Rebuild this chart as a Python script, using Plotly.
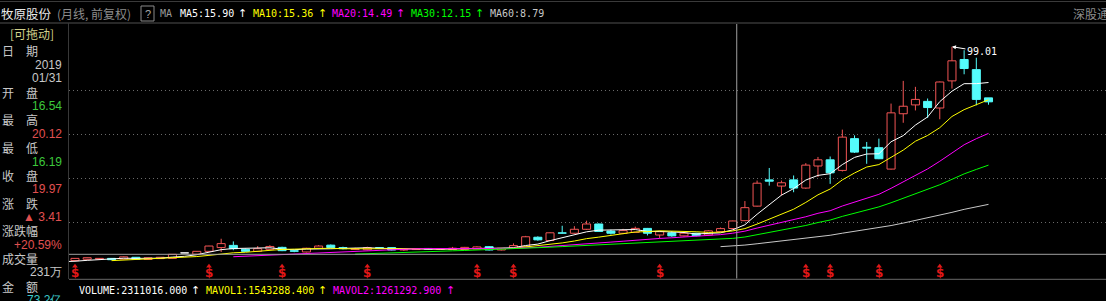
import numpy as np
import pandas as pd
import plotly.graph_objects as go

W, H = 1106, 301

# ---------------- data (monthly, 前复权) ----------------
months = pd.period_range("2014-01", "2020-10", freq="M").strftime("%Y/%m").tolist()
first_visible = "2014/07"

opens = [1.4, 1.3, 1.25, 1.3, 1.35, 1.4,
         2.0, 2.6, 2.7, 3.0, 2.7, 3.5, 2.5, 2.9, 3.0, 5.44,
         4.9, 6.2, 7.9, 8.9, 7.1, 6.2, 7.1, 8.0, 6.5, 5.9,
         7.6, 9.0, 7.9, 7.0, 6.9, 7.9, 7.9, 6.8, 7.0, 7.5,
         7.1, 7.0, 7.1, 7.3, 8.3, 6.8, 7.6, 8.3, 12.6, 11.1,
         14.6, 14.4, 16.2, 18.6, 15.4, 14.4, 14.8, 16.6, 13.6, 14.6,
         13.2, 14.4, 13.6, 15.1, 16.54, 20.1, 26.7, 38.6, 35.8, 38.6,
         34.9, 44.9, 47.7, 42.9, 57.3, 53.4, 53.2, 43.5, 68.6, 72.6,
         74.2, 71.2, 83.5, 93.2, 88.6, 75.8]
highs = [1.5, 1.35, 1.35, 1.4, 1.45, 1.55,
         3.1, 3.4, 3.1, 3.1, 3.9, 3.6, 3.4, 3.6, 4.9, 5.44,
         6.3, 8.7, 11.9, 10.7, 7.4, 8.6, 9.0, 8.3, 7.0, 7.8,
         9.0, 9.3, 8.3, 7.8, 8.3, 8.1, 8.0, 7.2, 7.5, 7.7,
         7.6, 8.2, 8.2, 8.5, 8.6, 7.8, 9.8, 13.2, 13.0, 14.8,
         17.8, 17.6, 20.1, 18.8, 16.0, 16.4, 17.4, 16.8, 15.6, 15.4,
         14.6, 14.6, 15.8, 17.0, 20.12, 29.0, 38.3, 44.0, 38.3, 40.6,
         46.2, 49.0, 49.2, 61.4, 58.8, 55.8, 57.3, 73.2, 83.5, 80.8,
         75.5, 83.2, 99.01, 97.4, 94.0, 75.8]
lows = [1.25, 1.2, 1.2, 1.25, 1.3, 1.35,
        1.9, 2.4, 2.6, 2.3, 2.6, 2.5, 2.4, 2.8, 2.9, 5.44,
        4.8, 6.0, 5.9, 6.7, 6.0, 6.0, 6.9, 6.3, 5.8, 5.7,
        7.4, 7.7, 7.1, 6.9, 6.7, 7.3, 6.6, 6.4, 6.8, 6.9,
        6.8, 6.9, 7.0, 7.2, 6.6, 6.6, 7.4, 8.1, 11.0, 10.8,
        14.2, 14.2, 15.9, 15.0, 13.8, 14.0, 14.6, 13.4, 12.1, 12.8,
        12.9, 13.0, 13.4, 14.9, 16.19, 19.9, 26.5, 36.0, 31.5, 33.0,
        34.5, 39.9, 36.8, 42.4, 50.8, 45.9, 48.0, 43.3, 64.5, 70.1,
        66.7, 66.1, 80.0, 86.5, 72.4, 72.7]
closes = [1.3, 1.25, 1.3, 1.35, 1.4, 1.5,
          3.0, 3.3, 3.0, 2.4, 3.7, 2.6, 3.3, 3.5, 4.85, 5.44,
          6.2, 8.6, 9.7, 7.4, 6.2, 7.4, 8.4, 6.5, 6.2, 7.6,
          8.6, 7.9, 7.4, 7.3, 7.9, 7.5, 6.8, 7.0, 7.3, 7.1,
          7.4, 7.6, 8.0, 8.2, 6.8, 7.6, 8.8, 12.8, 11.4, 14.6,
          14.4, 16.2, 18.6, 15.2, 14.4, 15.6, 16.6, 14.4, 15.1, 13.2,
          14.4, 13.3, 15.5, 16.5, 19.97, 26.0, 37.1, 38.0, 37.3, 34.9,
          45.3, 47.7, 41.8, 58.0, 51.2, 53.0, 48.2, 69.0, 72.0, 75.1,
          71.4, 83.0, 92.6, 89.1, 75.1, 74.0]

ma_periods = [5, 10, 20, 30, 60]
ma_colors = ["#ffffff", "#ffff00", "#ff00ff", "#00ff00", "#c8c8c8"]
title_ma_values = ["15.90", "15.36", "14.49", "12.15", "8.79"]

dividend_months = ["2014/07", "2015/06", "2015/12", "2016/07", "2017/04", "2017/07",
                   "2018/07", "2019/07", "2019/09", "2020/01", "2020/06"]

selected_month = "2019/01"
info_labels = ["日　期", "开　盘", "最　高", "最　低", "收　盘", "涨　跌", "涨跌幅", "成交量", "金　额"]
info_values = ["16.54", "20.12", "16.19", "19.97", "▲ 3.41", "+20.59%", "231万", "73.2亿"]
info_value_colors = ["#3cc83c", "#e05050", "#3cc83c", "#e05050", "#e05050", "#e05050", "#c8c8c8", "#3cc8c8"]

vol_labels = ["VOLUME:2311016.000", "MAVOL1:1543288.400", "MAVOL2:1261292.900"]
vol_colors = ["#ffffff", "#ffff00", "#ff00ff"]

# ---------------- geometry helpers (pixel layout) ----------------
CJK = "Noto Sans CJK SC"
MONO = "DejaVu Sans Mono"
SANS = "Liberation Sans"

def px(X):
    return X / W

def py(Y):
    return 1 - Y / H

PLOT_L, PLOT_T, PLOT_B = 69, 24, 279
FIRST_X, STEP = 75.0, 12.18
def price_at(Y):
    return (265.0 - Y) / 2.205

o = np.array(opens, float)
h = np.array(highs, float)
l = np.array(lows, float)
c = np.array(closes, float)
idx = np.arange(len(months)) - months.index(first_visible)

fig = go.Figure()

# wicks (outside bodies)
def wicks(mask):
    xs, ys = [], []
    for i in np.where(mask)[0]:
        top, bot = max(o[i], c[i]), min(o[i], c[i])
        if h[i] > top:
            xs += [idx[i], idx[i], None]
            ys += [top, h[i], None]
        if l[i] < bot:
            xs += [idx[i], idx[i], None]
            ys += [bot, l[i], None]
    return xs, ys

UP, DOWN, FLAT = "#f25555", "#54fcfc", "#ffffff"
up = c > o
dn = c < o
fl = c == o

for mask, col in [(up, UP), (dn, DOWN), (fl, FLAT)]:
    xs, ys = wicks(mask)
    fig.add_trace(go.Scatter(x=xs, y=ys, mode="lines", line=dict(color=col, width=1),
                             hoverinfo="skip", showlegend=False))

base = np.minimum(o, c)
height = np.maximum(np.abs(c - o), 0.06)
for mask, fill, col in [(up, "#000000", UP), (dn, DOWN, DOWN), (fl, FLAT, FLAT)]:
    fig.add_trace(go.Bar(x=idx[mask], y=height[mask], base=base[mask], width=0.66,
                         marker=dict(color=fill, line=dict(color=col, width=1)),
                         hoverinfo="skip", showlegend=False))

# moving averages
cs = pd.Series(c)
for n, col in zip(ma_periods, ma_colors):
    fig.add_trace(go.Scatter(x=idx, y=cs.rolling(n).mean(), mode="lines",
                             line=dict(color=col, width=1), hoverinfo="skip",
                             showlegend=False))

# dividend markers: small caret above a "$"
div_x = [months.index(m) - months.index(first_visible) for m in dividend_months]
fig.add_trace(go.Scatter(x=div_x, y=[price_at(266.3)] * len(div_x), mode="markers",
                         marker=dict(symbol="triangle-up", size=5, color="#e01818", line=dict(width=0)),
                         hoverinfo="skip", showlegend=False))

sel = months.index(selected_month) - months.index(first_visible)

shapes = []
# frame lines
shapes.append(dict(type="line", xref="paper", yref="paper", x0=0, x1=1, y0=py(1.5), y1=py(1.5),
                   line=dict(color="#3a3a3a", width=1)))
shapes.append(dict(type="line", xref="paper", yref="paper", x0=0, x1=1, y0=py(23), y1=py(23),
                   line=dict(color="#505050", width=1)))
shapes.append(dict(type="line", xref="paper", yref="paper", x0=px(PLOT_L), x1=1, y0=py(279.3), y1=py(279.3),
                   line=dict(color="#686868", width=1)))
shapes.append(dict(type="line", xref="paper", yref="paper", x0=px(68.5), x1=px(68.5), y0=py(279), y1=py(23),
                   line=dict(color="#383838", width=1)))
# crosshair
shapes.append(dict(type="line", xref="x", yref="paper", x0=sel + 0.33, x1=sel + 0.33,
                   y0=py(278.5), y1=py(24), line=dict(color="#a0a0a0", width=1)))
shapes.append(dict(type="line", xref="paper", yref="y", x0=px(PLOT_L), x1=1, y0=4.85, y1=4.85,
                   line=dict(color="#a0a0a0", width=1)))
# "?" box
shapes.append(dict(type="rect", xref="paper", yref="paper", x0=px(141), x1=px(154), y0=py(21), y1=py(6),
                   line=dict(color="#8a8a8a", width=1)))

ann = []
def text(t, X, Y, color, size=12, family=CJK, anchor="left"):
    ann.append(dict(text=t, x=px(X), y=py(Y), xref="paper", yref="paper", xanchor=anchor,
                    yanchor="middle", showarrow=False, borderpad=0,
                    font=dict(color=color, size=size, family=family)))

# title bar
text("牧原股份", 0, 13.5, "#e8e8e8", 12.5)
text("(月线, 前复权)", 56, 13.5, "#8c8c8c", 12)
text("?", 147.5, 13.5, "#a8a8a8", 11, SANS, "center")
text("MA", 159, 13.5, "#9a9a9a", 10, MONO)
ma_x = [179, 252, 331, 410, 489]
arrow_x = [242, 322, 400, 479]
for k, (n, col, v) in enumerate(zip(ma_periods, ma_colors, title_ma_values)):
    text(f"MA{n}:{v}", ma_x[k], 13.5, col, 10, MONO)
    if k < len(arrow_x):
        text("↑", arrow_x[k], 13.5, col, 11, "DejaVu Sans", "center")
text("深股通", 1072, 13.5, "#8c8c8c", 12)

# info panel
text("[可拖动]", 9, 34, "#d2d28c", 12)
row0, rstep = 50.7, 13.85
text(info_labels[0], 1, row0, "#c8c8c8", 12)
text(selected_month.split("/")[0], 63, row0 + rstep, "#c8c8c8", 12, SANS, "right")
last_day = pd.Period(selected_month.replace("/", "-"), freq="M").end_time.strftime("%m/%d")
text(last_day, 63, row0 + 2 * rstep, "#c8c8c8", 12, SANS, "right")
for k in range(1, len(info_labels)):
    yl = row0 + (2 * k + 1) * rstep
    text(info_labels[k], 1, yl, "#c8c8c8", 12)
    text(info_values[k - 1], 63, yl + rstep, info_value_colors[k - 1], 12, SANS, "right")

# volume header
vol_x = [78, 205, 332]
varrow_x = [195, 322, 450]
for k in range(3):
    text(vol_labels[k], vol_x[k], 290.7, vol_colors[k], 10, MONO)
    text("↑", varrow_x[k], 290.7, vol_colors[k], 11, "DejaVu Sans", "center")

# dividend "$" glyphs
for xi in div_x:
    ann.append(dict(text="<b>$</b>", x=xi, xref="x", y=py(273), yref="paper", showarrow=False,
                    xanchor="center", yanchor="middle", font=dict(color="#e01818", size=12, family="DejaVu Sans")))

# max label
imax = int(np.argmax(h))
ann.append(dict(text=f"{h[imax]:.2f}", x=idx[imax], y=h[imax], xref="x", yref="y",
                showarrow=True, ax=30, ay=5, arrowhead=2, arrowsize=0.8, arrowwidth=1,
                arrowcolor="#ffffff", standoff=0, font=dict(color="#ffffff", size=10, family=MONO)))

fig.update_layout(
    width=W, height=H, margin=dict(l=0, r=0, t=0, b=0, pad=0),
    paper_bgcolor="#000000", plot_bgcolor="#000000",
    barmode="overlay", showlegend=False,
    shapes=shapes, annotations=ann,
    xaxis=dict(domain=[px(PLOT_L), 1], range=[(PLOT_L - FIRST_X) / STEP, (W - FIRST_X) / STEP],
               showgrid=False, zeroline=False, showticklabels=False, ticks="", showline=False),
    yaxis=dict(domain=[py(PLOT_B), py(PLOT_T)], range=[price_at(PLOT_B), price_at(PLOT_T)],
               tickvals=[price_at(222.3), price_at(178.3), price_at(134.2), price_at(90.1)],
               showgrid=True, gridcolor="#6a6a6a", griddash="1px,3px", gridwidth=1,
               zeroline=False, showticklabels=False, ticks="", showline=False),
)

fig.write_html("out.html")
